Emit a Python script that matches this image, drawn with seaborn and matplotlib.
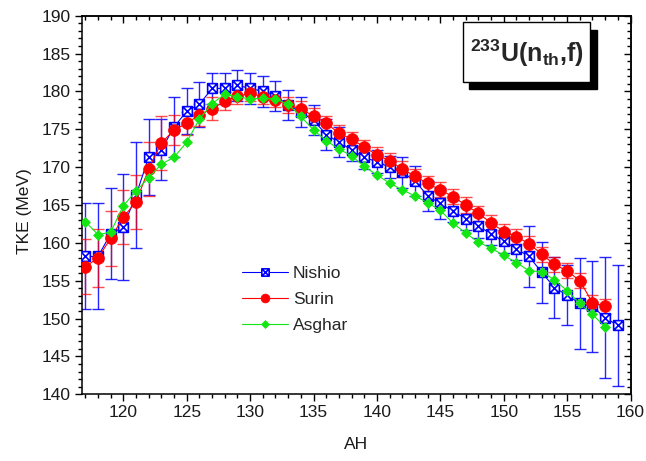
import numpy as np
import pandas as pd
import matplotlib
matplotlib.use("Agg")
import matplotlib.pyplot as plt
import seaborn as sns
from matplotlib.path import Path
from matplotlib.patches import Rectangle
from matplotlib.ticker import MultipleLocator, NullFormatter

# ---- data: total kinetic energy vs heavy fragment mass ----
nishio_ah = list(range(117, 160))
nishio_tke = [158.2, 158.2, 161.2, 162.1, 166.3, 171.3, 172.3, 175.3, 177.4, 178.3,
              180.4, 180.4, 180.8, 180.4, 180.0, 179.4, 178.2, 177.3, 176.2, 174.3,
              173.3, 172.3, 171.3, 170.7, 170.0, 169.3, 168.2, 166.2, 165.2, 164.2,
              163.2, 162.2, 161.2, 160.2, 159.2, 158.2, 156.1, 154.1, 153.1, 152.0,
              151.6, 150.1, 149.1]
nishio_err = [7, 7, 6, 7, 7, 5, 4, 4, 3, 3,
              2, 2, 2, 2, 2, 2, 2, 2, 2, 2,
              2, 1.5, 1.5, 1.5, 1.5, 2, 2, 2, 2, 1.5,
              1.5, 1.5, 1.5, 1.5, 1.5, 4, 4, 4, 4, 6,
              6, 8, 8]

surin_ah = list(range(117, 159))
surin_tke = [156.85, 158.0, 160.6, 163.4, 165.4, 169.75, 173.2, 174.9, 175.8, 176.9,
             177.7, 178.7, 179.35, 179.75, 179.3, 178.9, 178.2, 177.7, 176.75, 175.8,
             174.5, 173.7, 172.65, 171.6, 170.85, 169.75, 168.8, 167.85, 167.0, 166.1,
             165.0, 163.9, 162.65, 161.5, 160.8, 159.9, 158.5, 157.15, 156.3, 155.0,
             152.1, 151.65]
surin_err = [3.6, 3.8, 3.6, 3.6, 3.6, 3.6, 3.6, 2.0, 1.5, 1.5,
             1.5, 1.2, 1.0, 1.0, 1.0, 1.0, 1.0, 1.0, 1.0, 1.0,
             1.0, 1.0, 1.0, 1.0, 1.0, 1.0, 1.0, 1.0, 1.0, 1.0,
             1.0, 1.0, 1.0, 1.0, 1.0, 1.0, 1.0, 1.0, 1.0, 1.0,
             1.0, 1.0]

asghar_ah = list(range(117, 159))
asghar_tke = [162.8, 161.1, 161.4, 164.9, 166.85, 168.6, 170.4, 171.3, 173.3, 176.35,
              178.4, 179.6, 179.3, 179.0, 179.1, 179.0, 178.3, 176.7, 174.9, 173.5,
              172.4, 171.5, 170.1, 168.95, 167.9, 167.0, 166.2, 165.3, 164.3, 162.6,
              161.3, 160.1, 159.3, 158.35, 157.4, 156.3, 156.2, 155.1, 153.7, 152.0,
              150.55, 148.9]

x_ticks = [120, 125, 130, 135, 140, 145, 150, 155, 160]
y_ticks = [140, 145, 150, 155, 160, 165, 170, 175, 180, 185, 190]

# ---- style ----
sns.set_theme(style="white")
plt.rcParams["font.family"] = ["Liberation Sans", "DejaVu Sans"]
plt.rcParams["mathtext.fontset"] = "custom"
plt.rcParams["mathtext.rm"] = "Liberation Sans:bold"
plt.rcParams["mathtext.bf"] = "Liberation Sans:bold"
plt.rcParams["mathtext.it"] = "Liberation Sans:bold"

BLUE = "#0000ff"
RED = "#ff0000"
GREEN = "#14e614"

# square with a cross inside
box_x = Path([(-1, -1), (1, -1), (1, 1), (-1, 1), (-1, -1),
              (-1, -1), (1, 1), (-1, 1), (1, -1)],
             [Path.MOVETO, Path.LINETO, Path.LINETO, Path.LINETO, Path.CLOSEPOLY,
              Path.MOVETO, Path.LINETO, Path.MOVETO, Path.LINETO])

fig = plt.figure(figsize=(6.46, 4.61), dpi=100)
ax = fig.add_axes([81.5 / 646, 1 - 394.3 / 461, 549 / 646, 378.6 / 461])

df_n = pd.DataFrame({"AH": nishio_ah, "TKE": nishio_tke})
df_s = pd.DataFrame({"AH": surin_ah, "TKE": surin_tke})
df_a = pd.DataFrame({"AH": asghar_ah, "TKE": asghar_tke})

# error bars
ax.errorbar(nishio_ah, nishio_tke, yerr=nishio_err, fmt="none", ecolor=BLUE,
            elinewidth=1.0, capsize=4.6, capthick=1.0, alpha=0.85, zorder=2)
ax.errorbar(surin_ah, surin_tke, yerr=surin_err, fmt="none", ecolor=RED,
            elinewidth=1.0, capsize=4.6, capthick=1.0, alpha=0.7, zorder=3)

# series
sns.lineplot(data=df_n, x="AH", y="TKE", ax=ax, color=BLUE, lw=0.8,
             marker=box_x, markersize=7, markerfacecolor="white",
             markeredgecolor=BLUE, markeredgewidth=1.2, label="Nishio", zorder=4)
sns.lineplot(data=df_s, x="AH", y="TKE", ax=ax, color=RED, lw=0.8,
             marker="o", markersize=8.5, markerfacecolor=RED,
             markeredgecolor=RED, markeredgewidth=0.5, label="Surin", zorder=5)
sns.lineplot(data=df_a, x="AH", y="TKE", ax=ax, color=GREEN, lw=0.8,
             marker="D", markersize=5.2, markerfacecolor=GREEN,
             markeredgecolor=GREEN, markeredgewidth=0.5, label="Asghar", zorder=6)

ax.set_xlim(116.7, 160)
ax.set_ylim(140, 190)
ax.set_xticks(x_ticks)
ax.set_yticks(y_ticks)
ax.xaxis.set_minor_locator(MultipleLocator(1))
ax.yaxis.set_minor_locator(MultipleLocator(1))
ax.tick_params(which="both", direction="out", color="black", width=1,
               labelsize=12.5, labelcolor="#1a1a1a", bottom=True, left=True)
ax.tick_params(which="major", length=5, pad=3)
ax.tick_params(which="minor", length=3)
for s in ax.spines.values():
    s.set_visible(True)
    s.set_color("black")
    s.set_linewidth(1.1)

# inward ticks along the top and right edges
top = ax.secondary_xaxis("top")
top.set_xticks(x_ticks)
top.xaxis.set_minor_locator(MultipleLocator(1))
top.xaxis.set_major_formatter(NullFormatter())
top.tick_params(which="both", direction="in", width=1, color="black")
top.tick_params(which="major", length=5)
top.tick_params(which="minor", length=3)
right = ax.secondary_yaxis("right")
right.set_yticks(y_ticks)
right.yaxis.set_minor_locator(MultipleLocator(1))
right.yaxis.set_major_formatter(NullFormatter())
right.tick_params(which="both", direction="in", width=1, color="black")
right.tick_params(which="major", length=5)
right.tick_params(which="minor", length=3)

ax.set_xlabel("AH", fontsize=12.5, color="#1a1a1a")
ax.set_ylabel("TKE (MeV)", fontsize=12.5, color="#1a1a1a")
ax.xaxis.set_label_coords(0.5, -0.112)
ax.yaxis.set_label_coords(-0.09, 0.484)

handles, labels = ax.get_legend_handles_labels()
ax.legend(handles, labels, loc="center left", bbox_to_anchor=(0.292, 0.251),
          frameon=False, fontsize=12.5, handlelength=2.65, handletextpad=0.3,
          labelspacing=0.62, borderpad=0, borderaxespad=0, markerscale=0.75)

# reaction label with drop shadow
fig.patches.append(Rectangle((469.2 / 646, 1 - 89 / 461), 127.3 / 646, 59.4 / 461,
                             transform=fig.transFigure, facecolor="black",
                             edgecolor="black", zorder=10))
fig.patches.append(Rectangle((462.7 / 646, 1 - 81.7 / 461), 127.3 / 646, 59.4 / 461,
                             transform=fig.transFigure, facecolor="white",
                             edgecolor="black", lw=1.0, zorder=11))
fig.text(527 / 646, 1 - 53 / 461, r"$^{233}$U(n$_{th}$,f)", fontsize=18,
         fontweight="bold", ha="center", va="center", zorder=12)

fig.savefig("out.png", dpi=100)
